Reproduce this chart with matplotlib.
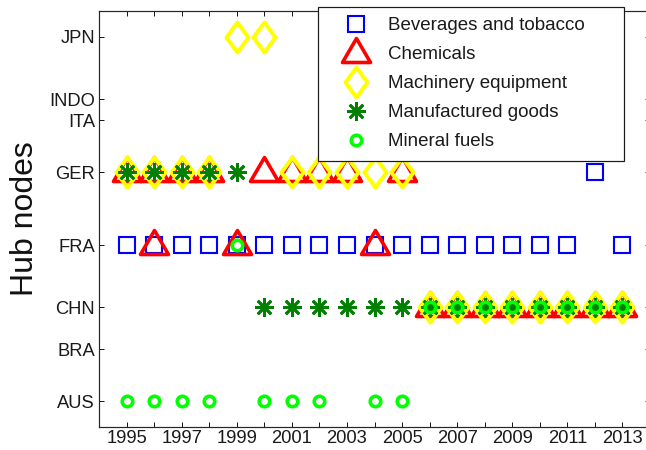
import matplotlib
matplotlib.use('Agg')
import matplotlib.pyplot as plt
from matplotlib.path import Path
from matplotlib.lines import Line2D

plt.rcParams['font.family'] = ['Liberation Sans', 'DejaVu Sans']

# ---- data ----
node_names = ['AUS', 'BRA', 'CHN', 'FRA', 'GER', 'ITA', 'INDO', 'JPN']
node_values = [1, 6, 10, 16, 23, 28, 30, 36]
years = list(range(1995, 2014))

beverages = {'FRA': [1995, 1996, 1997, 1998, 1999, 2000, 2001, 2002, 2003, 2004,
                     2005, 2006, 2007, 2008, 2009, 2010, 2011, 2013],
             'GER': [2012]}
chemicals = {'GER': [1995, 1996, 1997, 1998, 2000, 2001, 2002, 2003, 2005],
             'FRA': [1996, 1999, 2004],
             'CHN': [2006, 2007, 2008, 2009, 2010, 2011, 2012, 2013]}
machinery = {'JPN': [1999, 2000],
             'GER': [1995, 1996, 1997, 1998, 2001, 2002, 2003, 2004, 2005],
             'CHN': [2006, 2007, 2008, 2009, 2010, 2011, 2012, 2013]}
manufactured = {'GER': [1995, 1996, 1997, 1998, 1999],
                'CHN': [2000, 2001, 2002, 2003, 2004, 2005, 2006, 2007, 2008,
                        2009, 2010, 2011, 2012, 2013]}
mineral = {'AUS': [1995, 1996, 1997, 1998, 2000, 2001, 2002, 2004, 2005],
           'FRA': [1999],
           'CHN': [2006, 2007, 2008, 2009, 2010, 2011, 2012, 2013]}

series_labels = ['Beverages and tobacco', 'Chemicals', 'Machinery equipment',
                 'Manufactured goods', 'Mineral fuels']

# ---- styles ----
PX = 72.0 / 100.0  # points per pixel at dpi 100
tri = Path([(0, 15), (-14, -9), (14, -9), (0, 15)],
           [Path.MOVETO, Path.LINETO, Path.LINETO, Path.CLOSEPOLY])
dia = Path([(0, 15), (11, 0), (0, -15), (-11, 0), (0, 15)],
           [Path.MOVETO, Path.LINETO, Path.LINETO, Path.LINETO, Path.CLOSEPOLY])

styles = [
    dict(marker='s', markersize=16.5 * PX, mew=2.1 * PX, color='#0000ff'),
    dict(marker=tri, markersize=30 * PX, mew=3.6 * PX, color='#ff0000'),
    dict(marker=dia, markersize=30 * PX, mew=4.0 * PX, color='#ffff00'),
    dict(marker=(8, 2, 0), markersize=19 * PX, mew=2.7 * PX, color='#008000'),
    dict(marker='o', markersize=10.5 * PX, mew=3.6 * PX, color='#00ff00'),
]

node_pos = dict(zip(node_names, node_values))

fig = plt.figure(figsize=(6.46, 4.50), dpi=100)
ax = fig.add_axes([99 / 646, 23 / 450, 551 / 646, 416 / 450])

handles = []
for data, st, lab in zip([beverages, chemicals, machinery, manufactured, mineral],
                         styles, series_labels):
    xs, ys = [], []
    for node, yrs in data.items():
        for y in yrs:
            xs.append(y)
            ys.append(node_pos[node])
    ax.plot(xs, ys, linestyle='none', marker=st['marker'],
            markersize=st['markersize'], markeredgewidth=st['mew'],
            markeredgecolor=st['color'], markerfacecolor='none',
            clip_on=False)
    handles.append(Line2D([], [], linestyle='none', marker=st['marker'],
                          markersize=st['markersize'], markeredgewidth=st['mew'],
                          markeredgecolor=st['color'], markerfacecolor='none',
                          label=lab))

ax.set_xlim(1994, 2014)
ax.set_ylim(-1.5, 38.5)
ax.set_xticks(years)
ax.set_xticklabels([str(y) if (y - 1995) % 2 == 0 else '' for y in years])
ax.set_yticks(node_values)
ax.set_yticklabels(node_names)
ax.tick_params(direction='in', length=5 * PX, width=1 * PX, top=True, right=True,
               labelsize=13.2, colors='#1a1a1a', pad=3 * PX)
ax.tick_params(axis='y', pad=4 * PX)
for sp in ax.spines.values():
    sp.set_linewidth(1.2 * PX)
    sp.set_color('#262626')

ax.set_ylabel('Hub nodes', fontsize=23, color='#111111')
ax.yaxis.set_label_coords(-0.107, 0.5)

leg = fig.legend(handles=handles, loc='upper left',
                 bbox_to_anchor=(318 / 646, 0, (624 - 318) / 646, (450 - 7) / 450),
                 bbox_transform=fig.transFigure, mode='expand', borderaxespad=0,
                 fontsize=13.5, frameon=True, fancybox=False, framealpha=1,
                 edgecolor='#1a1a1a', borderpad=0.55, labelspacing=0.63,
                 handlelength=2.95, handletextpad=0.25, numpoints=1)
leg.get_frame().set_linewidth(1.2 * PX)
for t in leg.get_texts():
    t.set_color('#1a1a1a')
leg.set_zorder(10)

fig.savefig('out.png', dpi=100)
